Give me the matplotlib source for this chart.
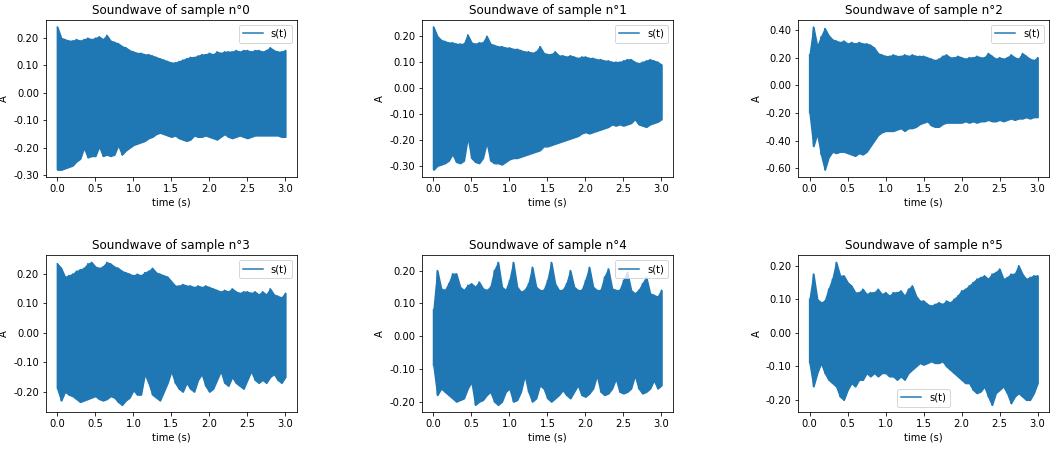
import matplotlib
matplotlib.use("Agg")
import matplotlib.pyplot as plt
import matplotlib.ticker as ticker
import numpy as np

# sample times (s), every 0.05 s over the 3 s recording
t = np.linspace(0, 3, 61)

# envelope of each soundwave (upper / lower amplitude)
s0_up = [0.24, 0.20, 0.195, 0.19, 0.19, 0.195, 0.19, 0.195, 0.20, 0.195,
         0.20, 0.205, 0.195, 0.21, 0.19, 0.185, 0.18, 0.17, 0.165, 0.155,
         0.15, 0.145, 0.145, 0.14, 0.14, 0.135, 0.13, 0.125, 0.12, 0.115,
         0.11, 0.11, 0.115, 0.12, 0.125, 0.13, 0.13, 0.135, 0.14, 0.14,
         0.145, 0.14, 0.15, 0.145, 0.15, 0.15, 0.15, 0.155, 0.15, 0.155,
         0.155, 0.15, 0.155, 0.155, 0.15, 0.155, 0.165, 0.155, 0.15, 0.15,
         0.155]
s0_lo = [-0.28, -0.28, -0.275, -0.27, -0.265, -0.25, -0.24, -0.20, -0.235, -0.23,
         -0.23, -0.195, -0.23, -0.225, -0.23, -0.225, -0.19, -0.225, -0.21, -0.20,
         -0.19, -0.185, -0.18, -0.175, -0.165, -0.16, -0.15, -0.145, -0.15, -0.155,
         -0.16, -0.155, -0.165, -0.17, -0.175, -0.17, -0.155, -0.16, -0.16, -0.155,
         -0.16, -0.165, -0.17, -0.16, -0.15, -0.16, -0.165, -0.16, -0.155, -0.16,
         -0.165, -0.16, -0.155, -0.155, -0.155, -0.155, -0.155, -0.155, -0.155, -0.16,
         -0.16]

s1_up = [0.235, 0.20, 0.185, 0.18, 0.175, 0.175, 0.17, 0.17, 0.17, 0.205,
         0.175, 0.17, 0.175, 0.175, 0.20, 0.17, 0.165, 0.16, 0.16, 0.155,
         0.155, 0.15, 0.15, 0.145, 0.14, 0.14, 0.135, 0.14, 0.16, 0.135,
         0.13, 0.13, 0.14, 0.125, 0.125, 0.12, 0.125, 0.12, 0.115, 0.12,
         0.12, 0.115, 0.115, 0.11, 0.11, 0.105, 0.105, 0.10, 0.10, 0.10,
         0.105, 0.11, 0.11, 0.10, 0.095, 0.10, 0.105, 0.11, 0.105, 0.10,
         0.09]
s1_lo = [-0.315, -0.30, -0.295, -0.29, -0.28, -0.255, -0.285, -0.29, -0.28, -0.19,
         -0.27, -0.285, -0.29, -0.27, -0.21, -0.28, -0.29, -0.29, -0.295, -0.285,
         -0.275, -0.27, -0.27, -0.265, -0.26, -0.255, -0.25, -0.245, -0.24, -0.225,
         -0.225, -0.22, -0.215, -0.21, -0.205, -0.20, -0.195, -0.19, -0.185, -0.175,
         -0.17, -0.175, -0.17, -0.165, -0.16, -0.155, -0.15, -0.14, -0.145, -0.14,
         -0.145, -0.14, -0.135, -0.12, -0.14, -0.145, -0.15, -0.14, -0.135, -0.13,
         -0.12]

s2_up = [0.22, 0.42, 0.28, 0.35, 0.41, 0.36, 0.33, 0.32, 0.31, 0.32,
         0.30, 0.31, 0.30, 0.31, 0.30, 0.30, 0.29, 0.27, 0.23, 0.22,
         0.21, 0.21, 0.22, 0.21, 0.21, 0.22, 0.21, 0.22, 0.21, 0.21,
         0.21, 0.20, 0.19, 0.18, 0.19, 0.21, 0.22, 0.20, 0.20, 0.21,
         0.20, 0.19, 0.20, 0.20, 0.21, 0.20, 0.20, 0.23, 0.21, 0.19,
         0.20, 0.19, 0.20, 0.22, 0.20, 0.19, 0.23, 0.21, 0.19, 0.18,
         0.20]
s2_lo = [-0.20, -0.44, -0.35, -0.50, -0.61, -0.52, -0.48, -0.49, -0.48, -0.48,
         -0.49, -0.50, -0.51, -0.49, -0.50, -0.48, -0.44, -0.40, -0.36, -0.34,
         -0.33, -0.33, -0.33, -0.32, -0.31, -0.33, -0.31, -0.31, -0.30, -0.28,
         -0.27, -0.26, -0.29, -0.30, -0.30, -0.28, -0.27, -0.27, -0.27, -0.27,
         -0.27, -0.26, -0.27, -0.26, -0.27, -0.26, -0.26, -0.25, -0.26, -0.26,
         -0.25, -0.26, -0.25, -0.24, -0.25, -0.24, -0.24, -0.23, -0.24, -0.23,
         -0.23]

s3_up = [0.235, 0.22, 0.19, 0.195, 0.20, 0.21, 0.215, 0.22, 0.235, 0.24,
         0.225, 0.22, 0.225, 0.24, 0.235, 0.225, 0.22, 0.21, 0.205, 0.20,
         0.195, 0.20, 0.195, 0.205, 0.21, 0.22, 0.205, 0.20, 0.195, 0.19,
         0.175, 0.16, 0.16, 0.165, 0.16, 0.16, 0.155, 0.16, 0.155, 0.16,
         0.155, 0.15, 0.145, 0.14, 0.145, 0.14, 0.15, 0.14, 0.135, 0.14,
         0.14, 0.135, 0.14, 0.13, 0.14, 0.13, 0.15, 0.13, 0.125, 0.12,
         0.135]
s3_lo = [-0.19, -0.23, -0.20, -0.21, -0.215, -0.225, -0.235, -0.23, -0.225, -0.22,
         -0.215, -0.225, -0.23, -0.225, -0.215, -0.22, -0.235, -0.245, -0.23, -0.22,
         -0.195, -0.21, -0.21, -0.14, -0.17, -0.21, -0.22, -0.23, -0.20, -0.17,
         -0.13, -0.17, -0.19, -0.20, -0.17, -0.19, -0.20, -0.16, -0.14, -0.18,
         -0.20, -0.19, -0.16, -0.13, -0.17, -0.18, -0.15, -0.17, -0.18, -0.19,
         -0.16, -0.13, -0.16, -0.17, -0.16, -0.17, -0.15, -0.14, -0.16, -0.17,
         -0.15]

s4_up = [0.08, 0.20, 0.145, 0.14, 0.16, 0.19, 0.19, 0.15, 0.14, 0.155,
         0.16, 0.15, 0.165, 0.145, 0.14, 0.15, 0.20, 0.225, 0.15, 0.14,
         0.17, 0.225, 0.15, 0.135, 0.14, 0.16, 0.21, 0.15, 0.14, 0.14,
         0.17, 0.225, 0.16, 0.14, 0.14, 0.16, 0.20, 0.15, 0.14, 0.14,
         0.17, 0.21, 0.15, 0.14, 0.14, 0.18, 0.205, 0.145, 0.14, 0.14,
         0.17, 0.195, 0.14, 0.13, 0.14, 0.16, 0.18, 0.13, 0.125, 0.12,
         0.14]
s4_lo = [-0.09, -0.18, -0.16, -0.17, -0.18, -0.19, -0.20, -0.195, -0.19, -0.16,
         -0.14, -0.21, -0.20, -0.195, -0.18, -0.17, -0.20, -0.21, -0.20, -0.17,
         -0.16, -0.20, -0.195, -0.17, -0.12, -0.17, -0.20, -0.19, -0.15, -0.16,
         -0.19, -0.20, -0.19, -0.18, -0.165, -0.18, -0.19, -0.17, -0.15, -0.18,
         -0.185, -0.175, -0.16, -0.12, -0.17, -0.18, -0.175, -0.16, -0.13, -0.17,
         -0.175, -0.17, -0.16, -0.12, -0.16, -0.175, -0.17, -0.16, -0.135, -0.16,
         -0.15]

s5_up = [0.10, 0.175, 0.10, 0.09, 0.095, 0.13, 0.16, 0.21, 0.17, 0.17,
         0.15, 0.14, 0.12, 0.12, 0.13, 0.115, 0.12, 0.12, 0.13, 0.115,
         0.12, 0.11, 0.12, 0.12, 0.125, 0.11, 0.13, 0.14, 0.11, 0.095,
         0.095, 0.085, 0.08, 0.085, 0.09, 0.085, 0.095, 0.09, 0.10, 0.11,
         0.125, 0.13, 0.14, 0.15, 0.16, 0.165, 0.17, 0.16, 0.175, 0.18,
         0.19, 0.16, 0.165, 0.175, 0.175, 0.20, 0.175, 0.16, 0.165, 0.17,
         0.17]
s5_lo = [-0.09, -0.16, -0.12, -0.09, -0.12, -0.14, -0.15, -0.16, -0.19, -0.20,
         -0.17, -0.15, -0.16, -0.14, -0.14, -0.12, -0.13, -0.12, -0.13, -0.12,
         -0.12, -0.13, -0.13, -0.14, -0.13, -0.14, -0.12, -0.11, -0.10, -0.09,
         -0.095, -0.09, -0.085, -0.09, -0.09, -0.085, -0.10, -0.11, -0.12, -0.13,
         -0.14, -0.15, -0.15, -0.17, -0.18, -0.175, -0.16, -0.19, -0.215, -0.18,
         -0.17, -0.16, -0.18, -0.21, -0.19, -0.18, -0.19, -0.20, -0.20, -0.18,
         -0.15]

uppers = [s0_up, s1_up, s2_up, s3_up, s4_up, s5_up]
lowers = [s0_lo, s1_lo, s2_lo, s3_lo, s4_lo, s5_lo]
legend_locs = ["upper right"] * 5 + ["lower center"]

fig, axes = plt.subplots(2, 3, figsize=(1057 / 72, 451 / 72), dpi=72)
fig.subplots_adjust(left=0.0435, right=0.9924, top=0.9557, bottom=0.0865,
                    wspace=0.5, hspace=0.5)

for i, ax in enumerate(axes.flat):
    up = np.array(uppers[i])
    lo = np.array(lowers[i])
    # zigzag between the two envelopes so it reads like a dense waveform
    tz = np.repeat(t, 2)
    sz = np.column_stack([up, lo]).ravel()
    ax.fill_between(t, lo, up, color="C0", linewidth=1.5)
    ax.plot(tz, sz, color="C0", label="s(t)")
    ax.set_title(f"Soundwave of sample n°{i}")
    ax.set_xlabel("time (s)")
    ax.set_ylabel("A")
    ax.yaxis.set_major_formatter(ticker.FormatStrFormatter("%.2f"))
    ax.legend(loc=legend_locs[i])

fig.savefig("out.png", dpi=72)
